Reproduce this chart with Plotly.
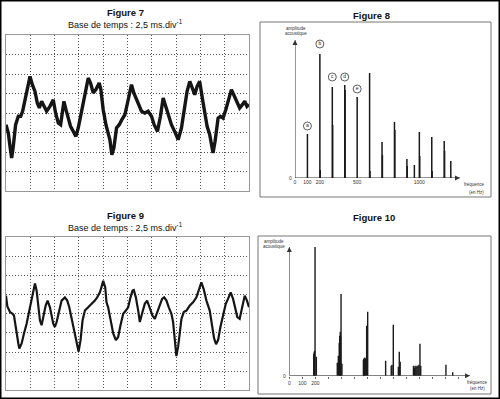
import plotly.graph_objects as go

W, H = 500, 399

# ---------------- data ----------------
# Figure 7 : oscillogram (time in ms, amplitude in divisions)
fig7_t = [0.00, 0.24, 0.41, 0.58, 0.75, 0.99, 1.27, 1.51, 1.71, 1.95, 2.19, 2.47, 2.71, 2.98,
          3.22, 3.43, 3.66, 3.90, 4.18, 4.52, 4.86, 5.10, 5.38, 5.62, 5.96, 6.17, 6.40, 6.64,
          6.92, 7.19, 7.43, 7.67, 7.88, 8.12, 8.46, 8.70, 8.97, 9.25, 9.59, 9.76, 10.00, 10.28,
          10.51, 10.69, 10.89, 11.10, 11.37, 11.65, 11.92, 12.23, 12.57, 12.91, 13.15, 13.42,
          13.70, 13.94, 14.28, 14.62, 14.97, 15.24, 15.58, 15.89, 16.17, 16.41, 16.68, 17.02,
          17.43, 17.71, 18.05, 18.39, 18.63, 18.91, 19.18, 19.42, 19.66, 19.93, 20.17, 20.45,
          20.69, 20.96, 21.17, 21.30, 21.51, 21.82, 22.06, 22.33, 22.61, 22.84, 23.19, 23.43,
          23.70, 24.04, 24.32, 24.56, 24.79, 25.00]
fig7_v = [-0.60, -1.03, -1.71, -2.31, -1.71, -0.60, -0.17, -0.17, 0.09, 0.68, 1.11, 1.88, 1.45, 1.11,
          0.51, 0.26, 0.60, 0.34, 0.09, 0.34, 0.68, 0.00, -0.51, -0.60, 0.60, 0.17, -0.34, -0.68,
          -0.94, -1.20, -0.77, -0.17, 0.43, 0.94, 1.79, 1.54, 1.03, 1.20, 1.54, 1.20, 0.17, -0.60,
          -1.03, -1.37, -2.14, -1.79, -0.77, -0.60, -0.34, -0.09, 0.68, 1.45, 1.03, 0.68,
          0.34, 0.09, 0.00, 0.09, -0.17, -0.60, -0.94, -0.17, 0.77, 0.34, -0.09, -0.60,
          -1.03, -1.37, -0.77, 0.34, 1.11, 1.62, 1.28, 0.94, 1.37, 1.62, 0.85, -0.09,
          -0.68, -1.11, -1.71, -2.05, -1.45, -0.26, -0.17, -0.26, 0.17, 0.60, 1.20, 0.94,
          0.68, 0.26, 0.43, 0.60, 0.34, 0.43]

# Figure 9 : oscillogram (time in ms, amplitude in divisions)
fig9_t = [0.00, 0.14, 0.41, 0.69, 0.82, 1.03, 1.27, 1.37, 1.61, 1.85, 2.12, 2.40, 2.64, 2.81, 2.98,
          3.15, 3.32, 3.49, 3.66, 3.84, 4.08, 4.28, 4.52, 4.69, 4.86, 5.03, 5.21, 5.48, 5.72,
          6.06, 6.30, 6.51, 6.68, 6.92, 7.19, 7.36, 7.47, 7.67, 7.88, 8.12, 8.46, 8.80, 9.14,
          9.38, 9.66, 9.83, 10.00, 10.21, 10.34, 10.51, 10.75, 11.03, 11.30, 11.54, 11.78,
          12.06, 12.33, 12.57, 12.81, 13.02, 13.15, 13.36, 13.60, 13.77, 14.04, 14.28, 14.52,
          14.80, 15.07, 15.31, 15.55, 15.82, 16.06, 16.27, 16.51, 16.75, 17.02, 17.19, 17.36,
          17.53, 17.71, 17.88, 18.05, 18.29, 18.56, 18.91, 19.25, 19.59, 19.87, 20.10, 20.34,
          20.62, 20.96, 21.20, 21.41, 21.61, 21.82, 22.06, 22.33, 22.61, 22.84, 23.12, 23.36,
          23.60, 23.80, 24.04, 24.28, 24.56, 24.79, 25.00]
fig9_v = [0.95, 0.38, 0.09, 0.00, -0.09, -0.86, -1.55, -1.81, -1.55, -1.03, -0.52, 0.17, 0.69, 1.21, 1.59,
          1.21, 0.34, -0.34, -0.60, -0.17, 0.43, 0.69, 0.34, -0.09, -0.52, -0.69, -0.43, 0.17, 0.69,
          0.86, 0.69, 0.34, -0.09, -0.69, -1.38, -1.81, -1.98, -1.38, -0.34, 0.17, 0.34, 0.52, 0.69,
          0.86, 1.12, 1.41, 1.72, 1.38, 0.60, 0.34, -0.34, -1.03, -1.38, -1.21, -0.60,
          0.00, 0.17, 0.34, 0.86, 1.21, 1.24, 0.86, 0.17, -0.43, 0.09, 0.52, 0.69,
          0.26, -0.09, -0.26, 0.09, 0.43, 0.78, 0.86, 0.69, 0.34, 0.00, -0.43, -1.38,
          -2.21, -1.72, -0.86, -0.26, 0.09, 0.17, 0.43, 0.60, 0.86, 1.29, 1.64, 1.29,
          0.69, 0.17, -0.60, -1.29, -1.59, -1.38, -0.69, 0.00, 0.52, 0.78, 1.12, 0.78,
          0.17, -0.17, -0.26, 0.26, 0.95, 0.69, 0.34]

# Figure 8 : spectrum (Hz, arbitrary amplitude)
fig8_freq = [100, 200, 300, 400, 500, 600, 700, 800, 900, 960, 1000, 1100, 1200, 1253]
fig8_amp = [44, 124, 91, 93, 81, 105, 36, 56, 19, 13, 46, 41, 37, 17]
fig8_sub_freq = [203, 303, 403, 603, 703, 803, 903, 1003, 1103, 1203]
fig8_sub_amp = [8, 53, 88, 7, 23, 48, 12, 22, 7, 27]
fig8_labels = ["a", "b", "c", "d", "e"]
fig8_label_freq = [100, 200, 300, 400, 500]
fig8_label_amp = [52, 134, 101, 101, 89]
fig8_tick_vals = [0, 100, 200, 500, 1000]

# Figure 10 : spectrum (Hz, arbitrary amplitude)
fig10_freq = [198, 398, 603, 800, 1005, 1205, 1257]
fig10_amp = [129, 82, 64, 51, 32, 11, 3.5]
fig10_sub_freq = [188, 192, 195, 208, 369, 377, 384, 388, 392, 395, 405,
                  570, 574, 578, 582, 586, 595, 741, 784, 790, 839, 846, 853,
                  955, 962, 968, 975, 982, 990, 997, 1011]
fig10_sub_amp = [22, 24, 25, 19, 13, 20, 33, 40, 44, 40, 12,
                 16, 17, 18, 18, 17, 50, 15, 10, 11, 9, 24, 14,
                 10, 8, 10, 9, 10, 10, 11, 10]
fig10_tick_vals = [0, 100, 200]

# axis extents (top of the amplitude arrow, end of the frequency arrow)
fig8_fmax, fig8_amax = 1327, 138
fig10_fmax, fig10_amax = 1390, 129


# ---------------- helpers ----------------
def px(x):
    return x / W


def py(y):
    return 1 - y / H


def stems(f, a):
    xs, ys = [], []
    for fi, ai in zip(f, a):
        xs += [fi, fi, None]
        ys += [0, ai, None]
    return xs, ys


FONT = "Liberation Sans, Arial, sans-serif"
fig = go.Figure()

# oscillograms
fig.add_trace(go.Scatter(x=fig7_t, y=fig7_v, mode="lines", xaxis="x", yaxis="y",
                         line=dict(color="#151515", width=3.4), showlegend=False))
fig.add_trace(go.Scatter(x=fig9_t, y=fig9_v, mode="lines", xaxis="x2", yaxis="y2",
                         line=dict(color="#151515", width=2.2), showlegend=False))


def add_axes_arrows(xa, ya, fmax, amax):
    fig.add_trace(go.Scatter(x=[0, 0, None, 0, fmax], y=[amax, 0, None, 0, 0], mode="lines",
                             xaxis=xa, yaxis=ya, line=dict(color="#333", width=1),
                             cliponaxis=False, showlegend=False, hoverinfo="skip"))
    fig.add_trace(go.Scatter(x=[0, fmax], y=[amax, 0], mode="markers", xaxis=xa, yaxis=ya,
                             marker=dict(symbol=["arrow-up", "arrow-right"], size=5, color="#333"),
                             cliponaxis=False, showlegend=False, hoverinfo="skip"))


add_axes_arrows("x3", "y3", fig8_fmax, fig8_amax)
add_axes_arrows("x4", "y4", fig10_fmax, fig10_amax)

# spectrum fig 8
sx, sy = stems(fig8_freq, fig8_amp)
fig.add_trace(go.Scatter(x=sx, y=sy, mode="lines", xaxis="x3", yaxis="y3",
                         line=dict(color="#1a1a1a", width=1.5), showlegend=False))
sx, sy = stems(fig8_sub_freq, fig8_sub_amp)
fig.add_trace(go.Scatter(x=sx, y=sy, mode="lines", xaxis="x3", yaxis="y3",
                         line=dict(color="#1a1a1a", width=1.5), showlegend=False))
fig.add_trace(go.Scatter(x=fig8_label_freq, y=fig8_label_amp, mode="markers+text",
                         xaxis="x3", yaxis="y3", text=fig8_labels, textposition="middle center",
                         textfont=dict(size=5, color="#222", family=FONT),
                         marker=dict(symbol="circle-open", size=8, color="#333",
                                     line=dict(width=0.8, color="#333")),
                         cliponaxis=False, showlegend=False))

# spectrum fig 10
sx, sy = stems(fig10_freq, fig10_amp)
fig.add_trace(go.Scatter(x=sx, y=sy, mode="lines", xaxis="x4", yaxis="y4",
                         line=dict(color="#1a1a1a", width=1.4), showlegend=False))
sx, sy = stems(fig10_sub_freq, fig10_sub_amp)
fig.add_trace(go.Scatter(x=sx, y=sy, mode="lines", xaxis="x4", yaxis="y4",
                         line=dict(color="#1a1a1a", width=1.4), showlegend=False))

scope_common = dict(showgrid=True, griddash="1px,2px", gridcolor="#555", gridwidth=1,
                    showticklabels=False, ticks="", showline=True, mirror=True,
                    linecolor="#999", linewidth=1, zeroline=False, fixedrange=True)
scope_x = dict(range=[0, 25], dtick=2.5, tick0=0, **scope_common)
scope_y = dict(range=[-4, 4], dtick=1, tick0=0, **scope_common)

fig.update_layout(
    width=W, height=H,
    margin=dict(l=0, r=0, t=0, b=0),
    paper_bgcolor="white", plot_bgcolor="white",
    font=dict(family=FONT, color="#222"),
    xaxis=dict(domain=[px(6), px(249)], anchor="y", **scope_x),
    yaxis=dict(domain=[py(191), py(35)], anchor="x", **scope_y),
    xaxis2=dict(domain=[px(6), px(249)], anchor="y2", **scope_x),
    yaxis2=dict(domain=[py(390.3), py(237.3)], anchor="x2", **scope_y),
    xaxis3=dict(domain=[px(295), px(460)], anchor="y3", range=[0, fig8_fmax],
                tickvals=fig8_tick_vals, ticktext=[str(v) for v in fig8_tick_vals],
                tickfont=dict(size=5, color="#333"), ticks="", ticklen=1,
                showgrid=False, zeroline=False, showline=False),
    yaxis3=dict(domain=[py(178), py(40)], anchor="x3", range=[0, fig8_amax],
                showticklabels=False, showgrid=False, zeroline=False, showline=False, ticks=""),
    xaxis4=dict(domain=[px(289.3), px(470)], anchor="y4", range=[0, fig10_fmax],
                tickvals=fig10_tick_vals, ticktext=[str(v) for v in fig10_tick_vals],
                tickfont=dict(size=5, color="#333"), ticks="outside", ticklen=2,
                tickcolor="#666", tickwidth=1,
                minor=dict(dtick=100, tick0=0, ticks="outside", ticklen=2,
                           tickcolor="#666", tickwidth=1, showgrid=False),
                showgrid=False, zeroline=False, showline=False),
    yaxis4=dict(domain=[py(375.7), py(247)], anchor="x4", range=[0, fig10_amax],
                showticklabels=False, showgrid=False, zeroline=False, showline=False, ticks=""),
)

shapes = [
    dict(type="rect", xref="paper", yref="paper", x0=0, x1=1, y0=0, y1=1,
         line=dict(color="black", width=3)),
    dict(type="rect", xref="paper", yref="paper", x0=px(260), x1=px(491), y0=py(197), y1=py(22),
         line=dict(color="#777", width=1)),
    dict(type="rect", xref="paper", yref="paper", x0=px(258), x1=px(491), y0=py(394), y1=py(236),
         line=dict(color="#777", width=1)),
]
fig.update_layout(shapes=shapes)


def txt(x, y, s, size, bold=False, xanchor="center", color="#111"):
    return dict(xref="paper", yref="paper", x=px(x), y=py(y), text=("<b>%s</b>" % s) if bold else s,
                showarrow=False, xanchor=xanchor, yanchor="middle",
                font=dict(size=size, color=color, family=FONT))


ann = [
    txt(125, 13, "Figure 7", 9.5, bold=True),
    txt(125, 24.5, "Base de temps : 2,5 ms.div<sup>-1</sup>", 9),
    txt(371, 15, "Figure 8", 9.5, bold=True),
    txt(125, 215, "Figure 9", 9.5, bold=True),
    txt(125, 227, "Base de temps : 2,5 ms.div<sup>-1</sup>", 9),
    txt(374, 217, "Figure 10", 9.5, bold=True),
    txt(296, 29, "amplitude", 4.5, color="#333"),
    txt(296, 33.5, "acoustique", 4.5, color="#333"),
    txt(290, 178, "0", 5, color="#333"),
    txt(474, 184, "fréquence", 4.5, color="#333"),
    txt(476, 192, "(en Hz)", 4.5, color="#333"),
    txt(286, 241.5, "amplitude", 4.5, xanchor="right", color="#333"),
    txt(287, 246.5, "acoustique", 4.5, xanchor="right", color="#333"),
    txt(284, 376, "0", 5, color="#333"),
    txt(477, 382, "fréquence", 4.5, color="#333"),
    txt(477, 388, "(en Hz)", 4.5, color="#333"),
]
fig.update_layout(annotations=ann)

fig.write_html("out.html", config={"displayModeBar": False},
               post_script="document.body.style.margin='0px';")
